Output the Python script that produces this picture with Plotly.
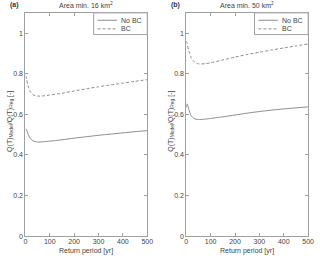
import plotly.graph_objects as go

# Return periods [yr]
T = [1, 3, 5, 10, 20, 30, 40, 50, 60, 80, 100, 150, 200, 250, 300, 350, 400, 450, 500]

# Panel (a): Area min. 16 km2
a_nobc = [0.525, 0.528, 0.522, 0.505, 0.482, 0.471, 0.466, 0.464, 0.464, 0.466, 0.468, 0.475, 0.483, 0.490, 0.497, 0.503, 0.509, 0.515, 0.520]
a_bc   = [0.790, 0.785, 0.772, 0.745, 0.712, 0.698, 0.692, 0.690, 0.690, 0.692, 0.695, 0.704, 0.715, 0.726, 0.736, 0.745, 0.754, 0.763, 0.771]

# Panel (b): Area min. 50 km2
b_nobc = [0.635, 0.652, 0.648, 0.625, 0.594, 0.581, 0.576, 0.575, 0.575, 0.577, 0.580, 0.588, 0.597, 0.606, 0.614, 0.621, 0.627, 0.632, 0.637]
b_bc   = [0.960, 0.950, 0.940, 0.915, 0.880, 0.862, 0.853, 0.849, 0.848, 0.850, 0.854, 0.868, 0.882, 0.895, 0.906, 0.917, 0.927, 0.937, 0.947]

panel_tags = ["(a)", "(b)"]
panel_titles = ["Area min. 16 km<sup>2</sup>", "Area min. 50 km<sup>2</sup>"]
series_names = ["No BC", "BC"]
yticks = [0, 0.2, 0.4, 0.6, 0.8, 1]
yticklabels = ["0", "0.2", "0.4", "0.6", "0.8", "1"]
xticks = [0, 100, 200, 300, 400, 500]

W, H = 320, 259
FONT = "Liberation Sans, Arial, sans-serif"
LINE = "#8c8c8c"
AX = "#a0a0a0"
TXT = "#444444"

fig = go.Figure()

doms = [[24 / W, 149 / W], [189 / W, 314 / W]]
data = [(a_nobc, a_bc), (b_nobc, b_bc)]
dashes = ["solid", "3px,2px"]

for i, pair in enumerate(data):
    xa = "x" if i == 0 else "x2"
    ya = "y" if i == 0 else "y2"
    for j, vals in enumerate(pair):
        fig.add_trace(go.Scatter(x=T, y=vals, mode="lines", name=series_names[j],
                                 line=dict(color=LINE, width=1, dash=dashes[j],
                                           shape="spline", smoothing=0.6),
                                 xaxis=xa, yaxis=ya, showlegend=False))

axis_common = dict(showline=True, linecolor=AX, linewidth=1, mirror="ticks",
                   ticks="inside", ticklen=3, tickcolor=AX, showgrid=False, zeroline=False,
                   tickfont=dict(family=FONT, size=7, color=TXT))

for i in range(2):
    sx = "" if i == 0 else "2"
    fig.layout["xaxis" + sx] = dict(domain=doms[i], range=[0, 500], tickvals=xticks,
                                    anchor="y" + sx, ticklabelstandoff=-2, **axis_common)
    fig.layout["yaxis" + sx] = dict(domain=[20 / H, 1 - 13 / H], range=[0, 1.1],
                                    tickvals=yticks, ticktext=yticklabels,
                                    anchor="x" + sx, **axis_common)


def label(text, px, py, size=7, color=TXT, angle=0, xanchor="center"):
    return dict(text=text, x=px / W, y=1 - py / H, xref="paper", yref="paper",
                xanchor=xanchor, yanchor="middle", textangle=angle, showarrow=False,
                font=dict(family=FONT, size=size, color=color))


ann = []
shapes = []
for i in range(2):
    x0 = doms[i][0] * W
    x1 = doms[i][1] * W
    cx = (x0 + x1) / 2
    ann.append(label("<b>" + panel_tags[i] + "</b>", x0 - 11, 5, color="#333"))
    ann.append(label(panel_titles[i], cx, 5))
    ann.append(label("Return period [yr]", cx, 254))
    ann.append(label("Q(T)<sub>Model</sub>/Q(T)<sub>Reg</sub> [-]", x0 - 16.5, 123, angle=-90))
    # compact legend box
    lx0, lx1, ly0, ly1 = x1 - 55, x1, 13, 35
    shapes.append(dict(type="rect", xref="paper", yref="paper",
                       x0=lx0 / W, x1=lx1 / W, y0=1 - ly1 / H, y1=1 - ly0 / H,
                       line=dict(color=AX, width=1), fillcolor="white", layer="above"))
    for j, name in enumerate(series_names):
        yy = 20.5 + 8.7 * j
        shapes.append(dict(type="line", xref="paper", yref="paper",
                           x0=(lx0 + 4) / W, x1=(lx0 + 24) / W, y0=1 - yy / H, y1=1 - yy / H,
                           line=dict(color=LINE, width=1, dash=dashes[j]), layer="above"))
        ann.append(label(name, lx0 + 26, yy, xanchor="left"))

fig.update_layout(width=W, height=H, margin=dict(l=0, r=0, t=0, b=0),
                  paper_bgcolor="white", plot_bgcolor="white",
                  annotations=ann, shapes=shapes, showlegend=False)

fig.write_html("out.html", config={"displayModeBar": False},
               post_script="document.body.style.margin='0px';")
